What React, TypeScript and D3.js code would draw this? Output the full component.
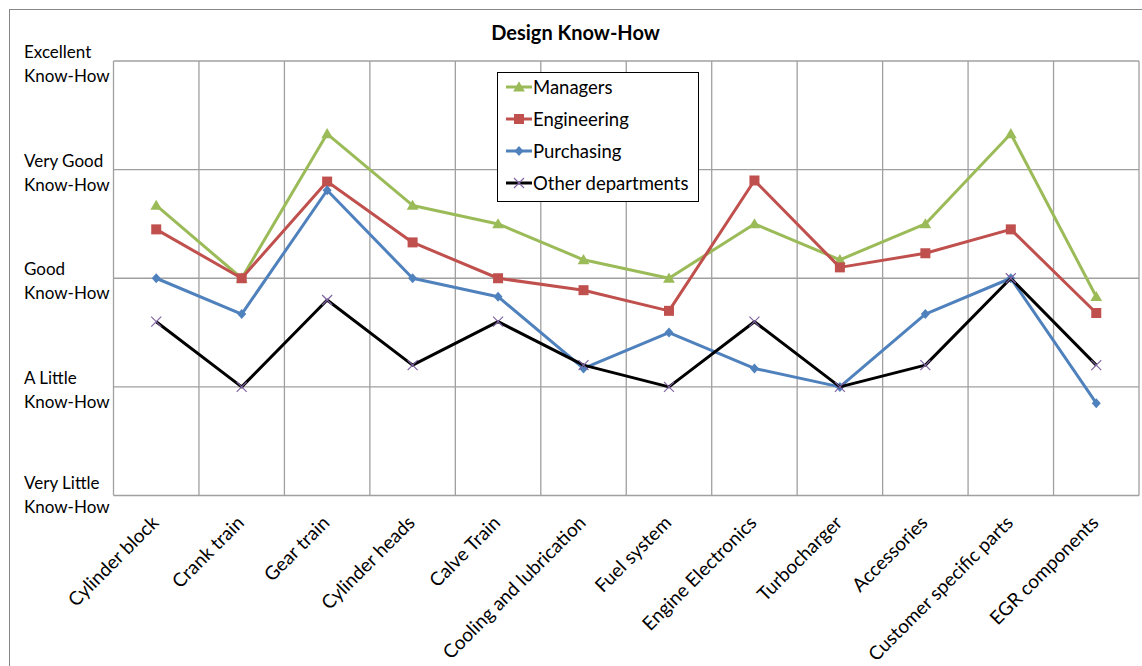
import React from "react";
import * as d3 from "d3";

// Engine component groups rated by each department
const categories = [
  "Cylinder block",
  "Crank train",
  "Gear train",
  "Cylinder heads",
  "Calve Train",
  "Cooling and lubrication",
  "Fuel system",
  "Engine Electronics",
  "Turbocharger",
  "Accessories",
  "Customer specific parts",
  "EGR components",
];

// Average rating on a 1 (very little) .. 5 (excellent) scale
const managers = [3.67, 3.0, 4.33, 3.67, 3.5, 3.17, 3.0, 3.5, 3.17, 3.5, 4.33, 2.83];
const engineering = [3.45, 3.0, 3.89, 3.33, 3.0, 2.89, 2.7, 3.9, 3.1, 3.23, 3.45, 2.68];
const purchasing = [3.0, 2.67, 3.81, 3.0, 2.83, 2.17, 2.5, 2.17, 2.0, 2.67, 3.0, 1.85];
const otherDepartments = [2.6, 2.0, 2.8, 2.2, 2.6, 2.2, 2.0, 2.6, 2.0, 2.2, 3.0, 2.2];

const levelValues = [1, 2, 3, 4, 5];
const levelLabels = ["Very Little", "A Little", "Good", "Very Good", "Excellent"];

type Marker = "triangle" | "square" | "diamond" | "cross";

const series: { name: string; values: number[]; color: string; marker: Marker; markerColor: string }[] = [
  { name: "Managers", values: managers, color: "#9bbb59", marker: "triangle", markerColor: "#9bbb59" },
  { name: "Engineering", values: engineering, color: "#c0504d", marker: "square", markerColor: "#c0504d" },
  { name: "Purchasing", values: purchasing, color: "#4f81bd", marker: "diamond", markerColor: "#4f81bd" },
  { name: "Other departments", values: otherDepartments, color: "#000000", marker: "cross", markerColor: "#8064a2" },
];

const W = 1142;
const H = 666;
const FONT = "Lato, 'Open Sans', sans-serif";

const plot = { left: 113.5, right: 1139, top: 61, bottom: 495.5 };

const x = d3.scaleBand<string>().domain(categories).range([plot.left, plot.right]);
const y = d3.scaleLinear().domain([1, 5]).range([plot.bottom, plot.top]);

function MarkerShape({ type, cx, cy, color }: { type: Marker; cx: number; cy: number; color: string }) {
  if (type === "triangle") {
    const p = d3.symbol(d3.symbolTriangle, 60)();
    return <path d={p || ""} transform={`translate(${cx},${cy + 1})`} fill={color} />;
  }
  if (type === "square") {
    return <rect x={cx - 5} y={cy - 5} width={10} height={10} fill={color} />;
  }
  if (type === "diamond") {
    return <path d={`M${cx},${cy - 5}L${cx + 4.5},${cy}L${cx},${cy + 5}L${cx - 4.5},${cy}Z`} fill={color} />;
  }
  const s = 5;
  return (
    <path
      d={`M${cx - s},${cy - s}L${cx + s},${cy + s}M${cx - s},${cy + s}L${cx + s},${cy - s}`}
      stroke={color}
      strokeWidth={1.2}
      fill="none"
    />
  );
}

export default function App() {
  const bw = x.bandwidth();
  const cx = (c: string) => (x(c) as number) + bw / 2;
  const line = d3
    .line<number>()
    .x((_, i) => cx(categories[i]))
    .y((v) => y(v));

  const legendX = 497.5;
  const legendY = 72.5;
  const legendRow = 32;

  return (
    <svg
      width={W}
      height={H}
      viewBox={`0 0 ${W} ${H}`}
      style={{ position: "absolute", left: 0, top: 0, background: "#fff" }}
      fontFamily={FONT}
    >
      <rect x={0} y={0} width={W} height={H} fill="#fff" />
      {/* chart frame */}
      <rect x={9.5} y={9.5} width={W + 10} height={H + 10} fill="none" stroke="#878787" strokeWidth={1} />

      <text x={575.5} y={40} textAnchor="middle" fontSize={20} fontWeight={700} fill="#000">
        Design Know-How
      </text>

      {/* horizontal gridlines */}
      {levelValues.map((v) => (
        <line key={`h${v}`} x1={plot.left} x2={plot.right} y1={y(v)} y2={y(v)} stroke="#a0a0a0" strokeWidth={1.3} />
      ))}
      {/* vertical gridlines at band edges */}
      {categories.map((c) => (
        <line
          key={`v${c}`}
          x1={x(c) as number}
          x2={x(c) as number}
          y1={plot.top}
          y2={plot.bottom}
          stroke="#a0a0a0"
          strokeWidth={1.3}
        />
      ))}
      <line x1={plot.right} x2={plot.right} y1={plot.top} y2={plot.bottom} stroke="#a0a0a0" strokeWidth={1.3} />

      {/* y-axis level labels */}
      {levelValues.map((v, i) => {
        const shift = v === 1 ? -4 : 0;
        return (
          <text key={`yl${v}`} x={24} fontSize={17} fill="#000">
            <tspan x={24} y={y(v) - 3 + shift}>
              {levelLabels[i]}
            </tspan>
            <tspan x={24} y={y(v) + 21 + shift}>
              Know-How
            </tspan>
          </text>
        );
      })}

      {/* category labels */}
      {categories.map((c) => {
        const ax = cx(c) + 3.5;
        const ay = 524;
        return (
          <text
            key={`xl${c}`}
            x={ax}
            y={ay}
            fontSize={19}
            textAnchor="end"
            transform={`rotate(-45, ${ax}, ${ay})`}
            fill="#000"
          >
            {c}
          </text>
        );
      })}

      {/* series lines and markers */}
      {series.map((s) => (
        <g key={s.name}>
          <path d={line(s.values) || ""} fill="none" stroke={s.color} strokeWidth={3} strokeLinejoin="round" />
          {s.values.map((v, i) => (
            <MarkerShape key={i} type={s.marker} cx={cx(categories[i])} cy={y(v)} color={s.markerColor} />
          ))}
        </g>
      ))}

      {/* legend */}
      <rect x={legendX} y={legendY} width={201} height={129} fill="#fff" stroke="#000" strokeWidth={1} />
      {series.map((s, i) => {
        const ly = legendY + 14.5 + i * legendRow;
        return (
          <g key={`lg${s.name}`}>
            <line x1={506} x2={532} y1={ly} y2={ly} stroke={s.color} strokeWidth={3} />
            <MarkerShape type={s.marker} cx={519} cy={ly} color={s.markerColor} />
            <text x={533} y={ly + 6.5} fontSize={18.5} fill="#000">
              {s.name}
            </text>
          </g>
        );
      })}
    </svg>
  );
}
